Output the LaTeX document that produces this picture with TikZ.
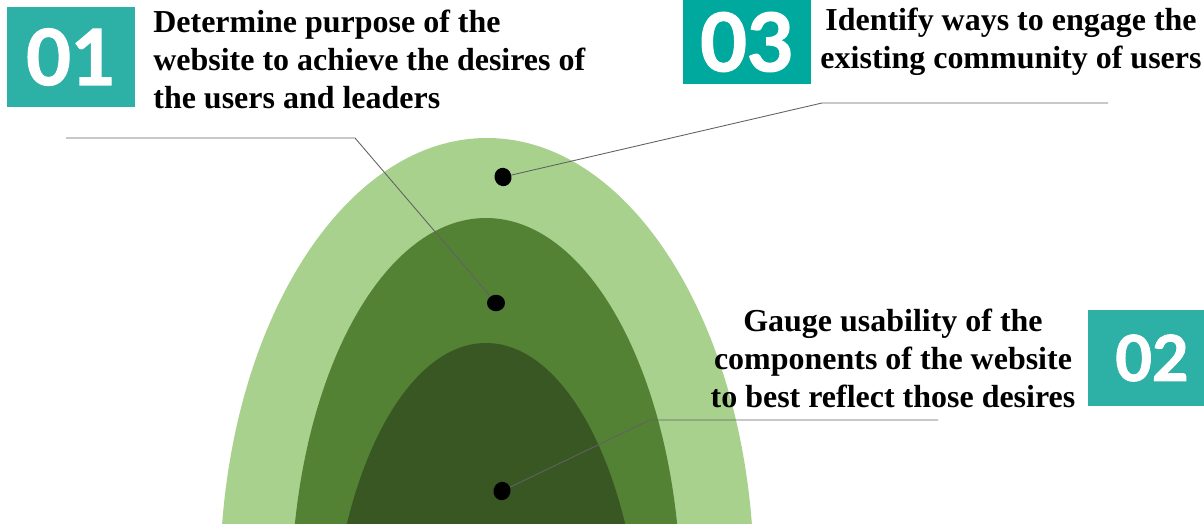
\documentclass[tikz,border=0pt]{standalone}
\usepackage{fontspec}
\usepackage{xcolor}
\usetikzlibrary{shapes.geometric}
\setmainfont{Liberation Serif}
\newfontfamily\numfont[FakeBold=1.6]{Lato}
\definecolor{lightleaf}{HTML}{A9D18E}
\definecolor{midleaf}{HTML}{548235}
\definecolor{darkleaf}{HTML}{385723}
\definecolor{tealbox}{HTML}{2DB0A5}
\definecolor{tealdeep}{HTML}{00A99D}
\definecolor{leadergray}{HTML}{626262}

\begin{document}
\begin{tikzpicture}[x=0.02cm, y=-0.02cm,
        numbox/.style={rectangle, fill=tealbox, text=white, inner sep=0pt,
            minimum width=2.56cm, minimum height=2cm,
            font=\numfont\bfseries\fontsize{44}{44}\selectfont},
        steptext/.style={inner sep=0pt, font=\bfseries\fontsize{18.2}{21.6}\selectfont},
        layerdot/.style={ellipse, fill=black, inner sep=0pt,
            minimum width=0.34cm, minimum height=0.37cm},
        leader/.style={draw=leadergray, line width=0.5pt}]
    \useasboundingbox (0,0) rectangle (1204,524);
    \begin{scope}
        \clip (0,0) rectangle (1204,524);
        \fill[lightleaf] (487,580) ellipse [x radius=267, y radius=442];
        \fill[midleaf] (486,600) ellipse [x radius=195, y radius=382];
        \fill[darkleaf] (486,680) ellipse [x radius=157, y radius=337];

        \node[numbox] (n01) at (71,57) {01};
        \node[numbox, fill=tealdeep, minimum height=1.7cm,
            font=\numfont\bfseries\fontsize{46}{46}\selectfont] (n03) at (747,42) {03};
        \node[numbox, minimum height=1.94cm,
            font=\numfont\bfseries\fontsize{36}{36}\selectfont] (n02) at (1152,358) {02};
    \end{scope}

    \node[steptext, anchor=north west, align=left] (t01) at (153,10)
        {Determine purpose of the\\website to achieve the desires of\\the users and leaders};
    \node[steptext, anchor=north, align=center] (t03) at (1011,8)
        {Identify ways to engage the\\existing community of users};
    \node[steptext, anchor=north, align=center] (t02) at (893,309)
        {Gauge usability of the\\components of the website\\to best reflect those desires};

    \coordinate (k01a) at (66,138);
    \coordinate (k01b) at (355,138);
    \coordinate (k03a) at (822,103);
    \coordinate (k03b) at (1108,103);
    \coordinate (k02a) at (650,420);
    \coordinate (k02b) at (938,420);

    \node[layerdot, rotate=15] (d03) at (503,177) {};
    \node[layerdot, minimum width=0.36cm, minimum height=0.33cm] (d01) at (496,303) {};
    \node[layerdot, rotate=-15] (d02) at (502,491) {};

    \draw[leader] (k01a) -- (k01b) -- (d01);
    \draw[leader] (d03) -- (k03a) -- (k03b);
    \draw[leader] (d02) -- (k02a) -- (k02b);
\end{tikzpicture}
\end{document}
